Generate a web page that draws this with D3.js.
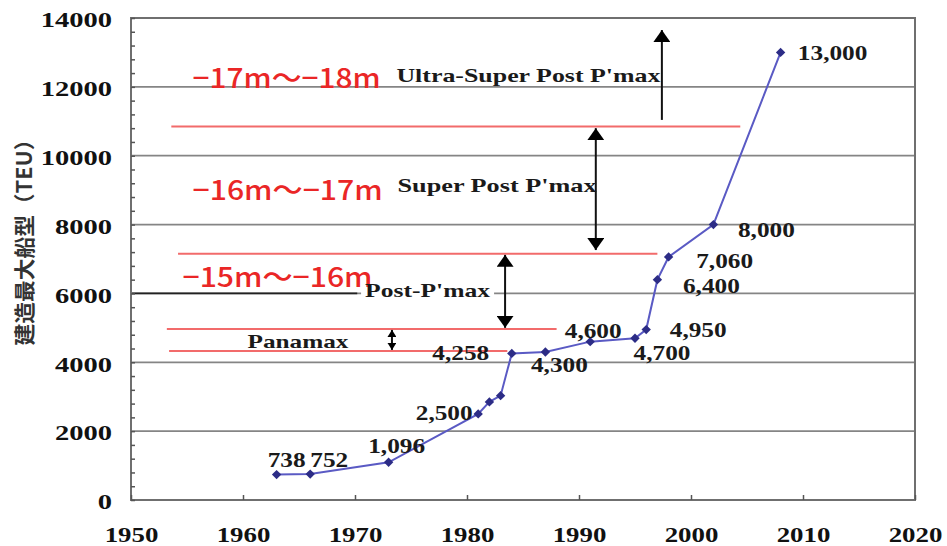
<!DOCTYPE html>
<html>
<head>
<meta charset="utf-8">
<script src="https://cdn.jsdelivr.net/npm/d3@7"></script>
<style>
  body { margin: 0; background: #fff; }
  svg { display: block; }
</style>
</head>
<body>
<script>
// ---- data ----------------------------------------------------------------------
var years = [1963, 1966, 1973, 1981, 1982, 1983, 1984, 1987, 1991, 1995, 1996, 1997, 1998, 2002, 2008];
var teu   = [738, 752, 1096, 2500, 2850, 3030, 4258, 4300, 4600, 4700, 4950, 6400, 7060, 8000, 13000];
var pointLabels = ["738", "752", "1,096", "2,500", "", "", "4,258", "4,300", "4,600", "4,700", "4,950", "6,400", "7,060", "8,000", "13,000"];

var xTicks = [1950, 1960, 1970, 1980, 1990, 2000, 2010, 2020];
var yTicks = [0, 2000, 4000, 6000, 8000, 10000, 12000, 14000];
var yTitle = "建造最大船型（TEU）";

// ship class boundaries (red lines) : TEU level and year span
var boundaryTEU  = [10850, 7150, 4970, 4330];
var boundaryFrom = [1953.6, 1954.2, 1953.2, 1953.4];
var boundaryTo   = [2004.4, 1997.0, 1988.0, 1983.6];

// depth and class names
var depthLabels = ["−17m〜−18m", "−16m〜−17m", "−15m〜−16m"];
var classLabels = ["Ultra-Super Post P'max", "Super Post P'max", "Post-P'max", "Panamax"];

// range arrows (year, low TEU, high TEU)
var arrowYear = [1997.4, 1991.5, 1983.4, 1973.3];
var arrowLow  = [11040, 7260, 5000, 4360];
var arrowHigh = [13650, 10800, 7120, 4940];

// ---- layout -----------------------------------------------------------------
var svgWidth = 947, svgHeight = 546;
var plot = {left: 131, right: 915, top: 18, bottom: 500};

// label offsets from each point (px) : [dx, dy baseline]
var labelOffsets = [[10, -8], [19, -7], [8, -9], [-34, 6], [0, 0], [0, 0], [-51, 7], [14, 20],
                    [3, -4], [27, 22], [52, 7], [54, 13], [56, 11], [53, 12], [52, 8]];
// where annotation texts sit, in data units: [year, TEU] of left/baseline
var depthAnchor = [[1955.5, 11966], [1955.5, 8714], [1954.6, 6187]];
var depthWidth = [188, 190, 190];
var classAnchor = [[1973.7, 12141], [1973.8, 8946], [1970.9, 5896], [1960.4, 4415]];
var classWidth = [264, 199, 125, 101];

var svg = d3.select("body").append("svg")
  .attr("width", svgWidth)
  .attr("height", svgHeight);

var x = d3.scaleLinear().domain([1950, 2020]).range([plot.left, plot.right]);
var y = d3.scaleLinear().domain([0, 14000]).range([plot.bottom, plot.top]);

var serif = "'Liberation Serif', 'Times New Roman', serif";

// gridlines
svg.append("g").selectAll("line")
  .data(yTicks.slice(1, -1))
  .enter().append("line")
  .attr("x1", plot.left).attr("x2", plot.right)
  .attr("y1", function(d) { return y(d); })
  .attr("y2", function(d) { return y(d); })
  .attr("stroke", "#858585")
  .attr("stroke-width", 1.8);

// the darker left part of the 6000 line
svg.append("line")
  .attr("x1", x(1950)).attr("x2", x(1970.2))
  .attr("y1", y(6000)).attr("y2", y(6000))
  .attr("stroke", "#222").attr("stroke-width", 1.8);

// frame
svg.append("rect")
  .attr("x", plot.left).attr("y", plot.top)
  .attr("width", plot.right - plot.left)
  .attr("height", plot.bottom - plot.top)
  .attr("fill", "none")
  .attr("stroke", "#6f6f6f")
  .attr("stroke-width", 2);

// minor ticks on the left axis (inside)
var minor = svg.append("g")
  .attr("transform", "translate(" + plot.left + ",0)")
  .call(d3.axisRight(y).tickValues(d3.range(0, 14001, 400)).tickSize(4).tickFormat(""));
minor.select(".domain").remove();
minor.selectAll("line").attr("stroke", "#555").attr("stroke-width", 1.5);

// y axis labels
var ySx = 1.36;
var yAxis = svg.append("g")
  .attr("transform", "translate(" + plot.left + ",0)")
  .call(d3.axisLeft(y).tickValues(yTicks).tickFormat(d3.format("d")).tickSize(0).tickPadding(19));
yAxis.select(".domain").remove();
yAxis.selectAll("text")
  .attr("x", -19 / ySx)
  .attr("dy", "0.42em")
  .attr("transform", "scale(" + ySx + ",1)")
  .style("font-family", serif)
  .style("font-weight", "bold")
  .style("font-size", "21px")
  .attr("fill", "#111");

// x axis labels and ticks
var xSx = 1.28;
var xAxis = svg.append("g")
  .attr("transform", "translate(0," + plot.bottom + ")")
  .call(d3.axisBottom(x).tickValues(xTicks).tickFormat(d3.format("d"))
        .tickSizeInner(-5).tickSizeOuter(0).tickPadding(27));
xAxis.select(".domain").remove();
xAxis.selectAll("line").attr("stroke", "#555").attr("stroke-width", 1.5);
xAxis.selectAll("text")
  .attr("transform", "scale(" + xSx + ",1)")
  .style("font-family", serif)
  .style("font-weight", "bold")
  .style("font-size", "21px")
  .attr("fill", "#111");

// y axis title
svg.append("text")
  .attr("transform", "translate(23,237) rotate(-90)")
  .attr("text-anchor", "middle")
  .attr("dominant-baseline", "central")
  .attr("textLength", 217)
  .attr("lengthAdjust", "spacingAndGlyphs")
  .style("font-family", "'Noto Sans CJK JP', sans-serif")
  .style("font-weight", "bold")
  .style("font-size", "21px")
  .attr("fill", "#333")
  .text(yTitle);

// red boundary lines
svg.append("g").selectAll("line")
  .data(boundaryTEU)
  .enter().append("line")
  .attr("x1", function(d, i) { return x(boundaryFrom[i]); })
  .attr("x2", function(d, i) { return x(boundaryTo[i]); })
  .attr("y1", function(d) { return y(d); })
  .attr("y2", function(d) { return y(d); })
  .attr("stroke", "#f26b6b")
  .attr("stroke-width", 2);

// arrow heads
var defs = svg.append("defs");
function head(id, w, h) {
  defs.append("marker")
    .attr("id", id)
    .attr("viewBox", "0 0 " + h + " " + w)
    .attr("refX", h).attr("refY", w / 2)
    .attr("markerWidth", h).attr("markerHeight", w)
    .attr("markerUnits", "userSpaceOnUse")
    .attr("orient", "auto-start-reverse")
    .append("path")
    .attr("d", "M0,0L" + h + "," + (w / 2) + "L0," + w + "Z")
    .attr("fill", "#000");
}
head("big", 17, 12);
head("small", 9, 7);

svg.append("g").selectAll("line")
  .data(arrowYear)
  .enter().append("line")
  .attr("x1", function(d) { return x(d); })
  .attr("x2", function(d) { return x(d); })
  .attr("y1", function(d, i) { return y(arrowLow[i]); })
  .attr("y2", function(d, i) { return y(arrowHigh[i]); })
  .attr("stroke", "#111")
  .attr("stroke-width", 2)
  .attr("marker-end", function(d, i) { return i == 3 ? "url(#small)" : "url(#big)"; })
  .attr("marker-start", function(d, i) {
    if (i == 0) return null;
    return i == 3 ? "url(#small)" : "url(#big)";
  });

// white patch behind Post-P'max so the grid line stops there
svg.append("rect")
  .attr("x", x(classAnchor[2][0]) - 4)
  .attr("y", y(classAnchor[2][1]) - 14)
  .attr("width", classWidth[2] + 8)
  .attr("height", 19)
  .attr("fill", "#fff");

// red depth labels
svg.append("g").selectAll("text")
  .data(depthLabels)
  .enter().append("text")
  .attr("x", function(d, i) { return x(depthAnchor[i][0]); })
  .attr("y", function(d, i) { return y(depthAnchor[i][1]); })
  .attr("textLength", function(d, i) { return depthWidth[i]; })
  .attr("lengthAdjust", "spacingAndGlyphs")
  .style("font-family", "'Noto Sans CJK JP', sans-serif")
  .style("font-weight", "500")
  .style("font-size", "27px")
  .attr("fill", "#ea2626")
  .text(function(d) { return d; });

// black class labels
svg.append("g").selectAll("text")
  .data(classLabels)
  .enter().append("text")
  .attr("x", function(d, i) { return x(classAnchor[i][0]); })
  .attr("y", function(d, i) { return y(classAnchor[i][1]); })
  .attr("textLength", function(d, i) { return classWidth[i]; })
  .attr("lengthAdjust", "spacingAndGlyphs")
  .style("font-family", serif)
  .style("font-weight", "bold")
  .style("font-size", "19px")
  .attr("fill", "#1a1a1a")
  .text(function(d) { return d; });

// data line
var pts = years.map(function(yr, i) { return [yr, teu[i]]; });
svg.append("path")
  .datum(pts)
  .attr("fill", "none")
  .attr("stroke", "#5a5ac4")
  .attr("stroke-width", 2)
  .attr("d", d3.line()
    .x(function(d) { return x(d[0]); })
    .y(function(d) { return y(d[1]); }));

svg.append("g").selectAll("path")
  .data(pts)
  .enter().append("path")
  .attr("d", d3.symbol().type(d3.symbolSquare).size(44))
  .attr("transform", function(d) { return "translate(" + x(d[0]) + "," + y(d[1]) + ") rotate(45)"; })
  .attr("fill", "#2c2c86");

// point value labels
var lSx = 1.15;
svg.append("g").selectAll("text")
  .data(pts)
  .enter().append("text")
  .attr("transform", function(d, i) {
    return "translate(" + (x(d[0]) + labelOffsets[i][0]) + "," + (y(d[1]) + labelOffsets[i][1]) + ") scale(" + lSx + ",1)";
  })
  .attr("text-anchor", "middle")
  .style("font-family", serif)
  .style("font-weight", "bold")
  .style("font-size", "22px")
  .attr("fill", "#1a1a1a")
  .text(function(d, i) { return pointLabels[i]; });
</script>
</body>
</html>
